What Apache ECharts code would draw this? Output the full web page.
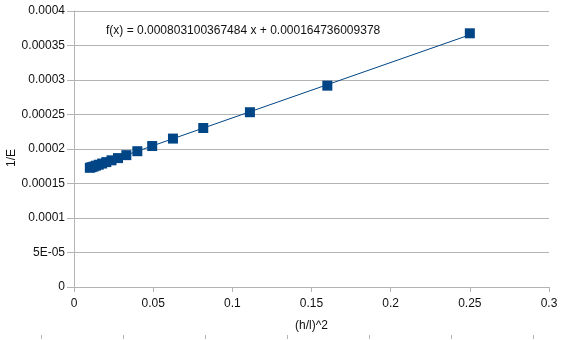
<!DOCTYPE html>
<html>
<head>
<meta charset="utf-8">
<script src="https://cdn.jsdelivr.net/npm/echarts@6/dist/echarts.min.js"></script>
<style>html,body{margin:0;padding:0;background:#fff}#c{width:577px;height:340px}</style>
</head>
<body>
<div id="c"></div>
<script>
// Data
var xValues = [0.01, 0.01108, 0.012346, 0.013841, 0.015625, 0.017778, 0.020408, 0.023669, 0.027778, 0.033058, 0.04, 0.049383, 0.0625, 0.081633, 0.111111, 0.16, 0.25];
var yValues = [0.0001728, 0.0001736, 0.0001745, 0.0001758, 0.0001772, 0.0001789, 0.000181, 0.0001836, 0.0001868, 0.0001911, 0.0001968, 0.0002043, 0.0002151, 0.0002304, 0.0002533, 0.0002918, 0.0003677];
var yTickLabels = ['0', '5E-05', '0.0001', '0.00015', '0.0002', '0.00025', '0.0003', '0.00035', '0.0004'];
var xTickLabels = ['0', '0.05', '0.1', '0.15', '0.2', '0.25', '0.3'];
var trendSlope = 0.000803100367484;
var trendIntercept = 0.000164736009378;
var trendLabel = 'f(x) = 0.000803100367484 x + 0.000164736009378';
var xTitle = '(h/l)^2';
var yTitle = '1/E';

var pts = xValues.map(function (x, i) { return [x, yValues[i]]; });
var xMin = Math.min.apply(null, xValues), xMax = Math.max.apply(null, xValues);
var trend = [[xMin, trendSlope * xMin + trendIntercept], [xMax, trendSlope * xMax + trendIntercept]];

var FONT = '"Liberation Sans", Arial, sans-serif';
var TXT = '#111';
var chart = echarts.init(document.getElementById('c'), null, {renderer: 'canvas'});
chart.setOption({
  animation: false,
  backgroundColor: '#fff',
  textStyle: {fontFamily: FONT},
  grid: [
    {left: 74, right: 28, top: 11, bottom: 53, containLabel: false, outerBoundsMode: 'none'},
    {left: 41, width: 492, top: 334, height: 1, outerBoundsMode: 'none'}
  ],
  xAxis: [{
    type: 'value', gridIndex: 0, min: 0, max: 0.3, interval: 0.05,
    name: xTitle, nameLocation: 'middle', nameGap: 33, nameMoveOverlap: false,
    nameTextStyle: {fontFamily: FONT, fontSize: 12, color: TXT},
    axisLine: {show: true, lineStyle: {color: '#b3b3b3', width: 1}},
    axisTick: {show: true, length: 5, lineStyle: {color: '#b3b3b3'}},
    axisLabel: {fontFamily: FONT, fontSize: 12, color: TXT, margin: 11,
      formatter: function (v) { return xTickLabels[Math.round(v / 0.05)]; }},
    splitLine: {show: false}
  }, {
    type: 'value', gridIndex: 1, min: 0, max: 6, interval: 1,
    axisLine: {show: false},
    axisTick: {show: true, length: 4, inside: false, lineStyle: {color: '#b3b3b3'}},
    axisLabel: {show: false},
    splitLine: {show: false}
  }],
  yAxis: [{
    type: 'value', gridIndex: 0, min: 0, max: 0.0004, interval: 0.00005,
    name: yTitle, nameLocation: 'middle', nameGap: 56, nameRotate: 90, nameMoveOverlap: false,
    nameTextStyle: {fontFamily: FONT, fontSize: 12, color: TXT, padding: [0, 18, 0, 0]},
    axisLine: {show: true, lineStyle: {color: '#b3b3b3', width: 1}},
    axisTick: {show: true, length: 7, lineStyle: {color: '#b3b3b3'}},
    axisLabel: {fontFamily: FONT, fontSize: 12, color: TXT, margin: 9,
      formatter: function (v) { return yTickLabels[Math.round(v / 0.00005)]; }},
    splitLine: {show: true, lineStyle: {color: '#b3b3b3', width: 1}}
  }, {
    type: 'value', gridIndex: 1, show: false, min: 0, max: 1
  }],
  graphic: [{
    type: 'text', left: 106, top: 25,
    style: {text: trendLabel, font: '12px ' + FONT, fill: TXT}
  }],
  series: [{
    type: 'line', xAxisIndex: 0, yAxisIndex: 0, data: trend,
    symbol: 'none', lineStyle: {color: '#004586', width: 1}, silent: true, z: 2
  }, {
    type: 'scatter', xAxisIndex: 0, yAxisIndex: 0, data: pts,
    symbol: 'rect', symbolSize: 10, itemStyle: {color: '#004586', opacity: 1}, z: 3
  }]
});
</script>
</body>
</html>
